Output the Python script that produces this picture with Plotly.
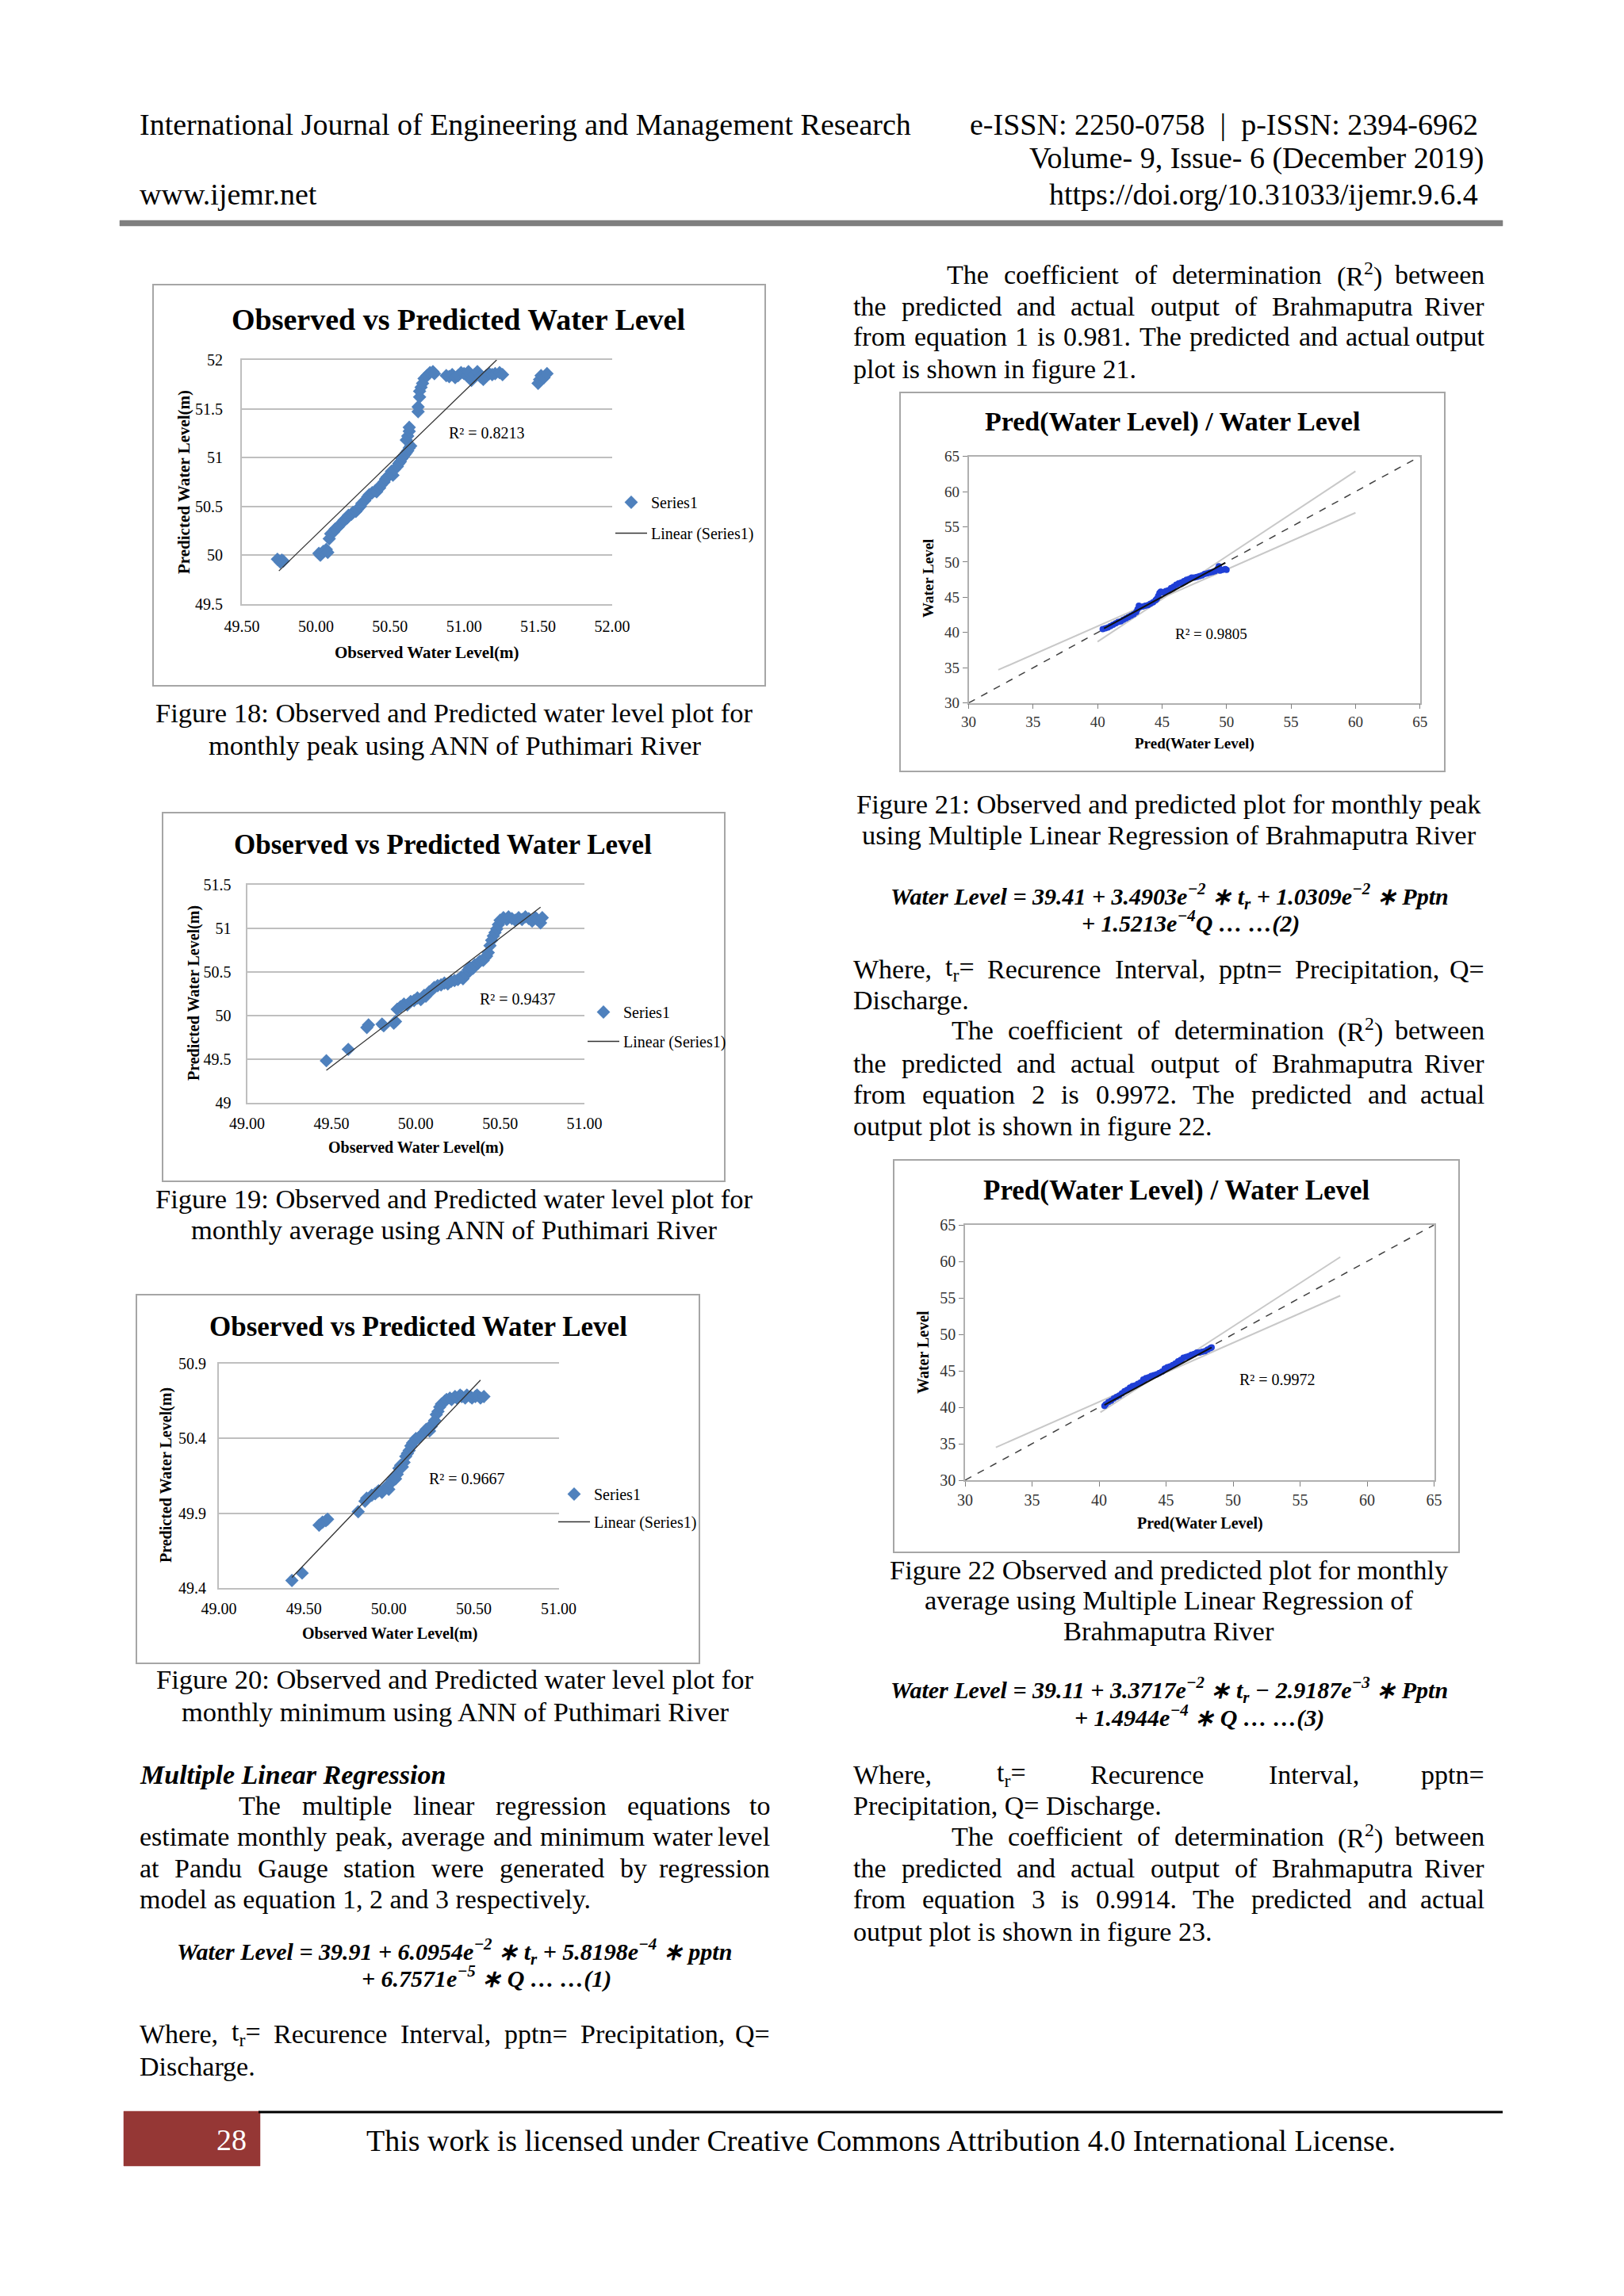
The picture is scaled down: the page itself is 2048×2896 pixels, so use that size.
import re
import plotly.graph_objects as go

W, H = 2048, 2896
def px(x): return x / W
def py(y): return 1 - y / H

SERIF = "Liberation Serif, Times New Roman, serif"
BLUE = "#4F81BD"
DOTBLUE = "#1f3fd6"
GRID = "#bfbfbf"

# ---------------- DATA ----------------
# Figure 18: monthly peak (ANN, Puthimari)
obs18 = [49.74, 49.76, 49.77, 49.78,
         50.02, 50.03, 50.05, 50.07, 50.08,
         50.09, 50.10, 50.12, 50.13, 50.15, 50.16, 50.18, 50.19, 50.21, 50.22,
         50.24, 50.25, 50.27, 50.28, 50.30, 50.31, 50.33, 50.35, 50.36, 50.38,
         50.40, 50.41, 50.43, 50.44, 50.46, 50.47, 50.48, 50.50, 50.51, 50.52,
         50.53, 50.55, 50.56, 50.57, 50.58, 50.59, 50.60, 50.61, 50.62, 50.63, 50.64,
         50.61, 50.62, 50.63, 50.63, 50.69, 50.69, 50.70, 50.70, 50.71, 50.72, 50.73, 50.75, 50.77, 50.79, 50.80,
         50.88, 50.90, 50.92, 50.94, 50.96, 50.98, 51.00, 51.02, 51.03, 51.05,
         51.07, 51.09, 51.11, 51.13, 51.15, 51.17, 51.19, 51.21, 51.24, 51.26,
         51.50, 51.51, 51.52, 51.54, 51.56]
pred18 = [49.96, 49.93, 49.95, 49.94,
          50.02, 50.00, 50.04, 50.06, 50.03,
          50.17, 50.22, 50.24, 50.27, 50.29, 50.31, 50.34, 50.36, 50.38, 50.41,
          50.42, 50.44, 50.45, 50.47, 50.50, 50.53, 50.56, 50.60, 50.62, 50.64,
          50.66, 50.65, 50.69, 50.72, 50.75, 50.78, 50.80, 50.83, 50.86, 50.82,
          50.88, 50.91, 50.94, 50.96, 50.99, 51.01, 51.03, 51.05, 51.07, 51.10, 51.12,
          51.18, 51.22, 51.27, 51.31, 51.47, 51.52, 51.62, 51.68, 51.72, 51.76, 51.81, 51.84, 51.87, 51.88, 51.86,
          51.84, 51.83, 51.85, 51.82, 51.84, 51.87, 51.86, 51.84, 51.88, 51.79,
          51.85, 51.88, 51.83, 51.80, 51.84, 51.86, 51.85, 51.86, 51.87, 51.85,
          51.76, 51.80, 51.84, 51.82, 51.86]
trend18_x = [49.75, 51.22]
trend18_y = [49.84, 52.00]

# Figure 19: monthly average
obs19 = [49.47, 49.60, 49.71, 49.72, 49.80, 49.81, 49.87, 49.88, 49.89, 49.91,
         49.93, 49.95, 49.97, 49.99, 50.01, 50.03, 50.05, 50.06, 50.08, 50.10,
         50.11, 50.13, 50.15, 50.17, 50.19, 50.21, 50.23, 50.25, 50.27, 50.28,
         50.30, 50.31, 50.32, 50.34, 50.35, 50.37, 50.38, 50.40, 50.41, 50.42,
         50.43, 50.44, 50.45, 50.46, 50.47, 50.48, 50.49,
         50.50, 50.52, 50.54, 50.55, 50.57, 50.59, 50.61, 50.63, 50.65, 50.67,
         50.69, 50.71, 50.72, 50.74, 50.75]
pred19 = [49.48, 49.61, 49.86, 49.89, 49.90, 49.88, 49.91, 49.93, 50.07, 50.10,
          50.13, 50.12, 50.16, 50.17, 50.20, 50.18, 50.23, 50.22, 50.27, 50.30,
          50.32, 50.34, 50.35, 50.37, 50.36, 50.39, 50.40, 50.41, 50.44, 50.42,
          50.47, 50.52, 50.55, 50.54, 50.58, 50.60, 50.62, 50.63, 50.66, 50.68,
          50.72, 50.80, 50.86, 50.91, 50.95, 50.99, 51.04,
          51.09, 51.12, 51.10, 51.13, 51.11, 51.09, 51.12, 51.10, 51.13, 51.11,
          51.08, 51.12, 51.10, 51.06, 51.12]
trend19_x = [49.47, 50.74]
trend19_y = [49.37, 51.24]

# Figure 20: monthly minimum
obs20 = [49.43, 49.49, 49.59, 49.61, 49.63, 49.64, 49.82, 49.86, 49.87, 49.90,
         49.92, 49.94, 49.96, 49.98, 49.99, 50.00, 50.01, 50.02, 50.03, 50.04,
         50.05, 50.06, 50.07, 50.08, 50.09, 50.10, 50.11, 50.12, 50.13, 50.14,
         50.15, 50.16, 50.18, 50.19, 50.21, 50.22, 50.24, 50.25, 50.26, 50.27,
         50.28, 50.29, 50.30, 50.31, 50.33, 50.34, 50.36, 50.37, 50.39, 50.40,
         50.42, 50.43, 50.45, 50.46, 50.48, 50.49, 50.51, 50.52, 50.54, 50.56]
pred20 = [49.45, 49.50, 49.82, 49.84, 49.85, 49.86, 49.91, 49.98, 50.00, 50.02,
          50.03, 50.05, 50.04, 50.07, 50.08, 50.06, 50.10, 50.12, 50.14, 50.13,
          50.16, 50.20, 50.22, 50.21, 50.24, 50.28, 50.30, 50.32, 50.35, 50.37,
          50.38, 50.40, 50.41, 50.42, 50.44, 50.46, 50.45, 50.48, 50.50, 50.52,
          50.56, 50.58, 50.61, 50.63, 50.65, 50.66, 50.67, 50.66, 50.68, 50.67,
          50.69, 50.68, 50.67, 50.69, 50.68, 50.67, 50.68, 50.69, 50.67, 50.68]
trend20_x = [49.43, 50.54]
trend20_y = [49.47, 50.79]

# Figure 21: MLR monthly peak (Brahmaputra)
predwl21 = [40.4, 40.6, 40.8, 41.0, 41.2, 41.4, 41.6, 41.8, 42.0, 42.2,
            42.4, 42.6, 42.8, 43.0, 43.1, 43.2, 43.3, 43.5, 43.7, 43.9,
            44.1, 44.3, 44.5, 44.6, 44.7, 44.8, 44.9, 45.1, 45.3, 45.5,
            45.7, 45.9, 46.1, 46.3, 46.5, 46.7, 46.9, 47.1, 47.3, 47.5,
            47.7, 47.9, 48.1, 48.3, 48.5, 48.7, 48.9, 49.1, 49.3, 49.4,
            49.5, 49.7, 49.9, 50.0]
wl21 = [40.5, 40.6, 40.7, 40.9, 41.1, 41.3, 41.5, 41.6, 41.8, 42.0,
        42.2, 42.4, 42.6, 42.9, 43.3, 43.8, 43.6, 43.7, 43.8, 43.9,
        44.1, 44.3, 44.6, 44.8, 45.2, 45.6, 45.8, 45.7, 45.9, 46.0,
        46.3, 46.5, 46.8, 47.0, 47.1, 47.3, 47.5, 47.6, 47.8, 47.8,
        47.9, 48.0, 48.1, 48.3, 48.4, 48.5, 48.6, 48.7, 49.0, 49.4,
        48.8, 48.9, 49.0, 48.9]
diag_x = [30, 65]
diag_y = [30, 65]
fit21_x = [40.5, 49.9]
fit21_y = [40.6, 49.9]
band21a_x = [32.3, 60.0]
band21a_y = [34.7, 57.0]
band21b_x = [40.0, 60.0]
band21b_y = [38.7, 62.9]

# Figure 22: MLR monthly average (Brahmaputra)
predwl22 = [40.4, 40.5, 40.7, 40.9, 41.1, 41.3, 41.5, 41.7, 41.9, 42.1,
            42.3, 42.5, 42.7, 42.9, 43.1, 43.3, 43.5, 43.7, 43.9, 44.1,
            44.3, 44.5, 44.7, 44.9, 45.1, 45.3, 45.5, 45.7, 45.9, 46.1,
            46.3, 46.5, 46.7, 46.9, 47.1, 47.3, 47.5, 47.7, 47.9, 48.1,
            48.3, 48.4]
wl22 = [40.2, 40.4, 40.7, 40.9, 41.2, 41.4, 41.6, 41.9, 42.2, 42.4,
        42.7, 42.9, 43.0, 43.2, 43.4, 43.8, 44.0, 44.1, 44.3, 44.4,
        44.5, 44.7, 44.9, 45.3, 45.5, 45.6, 45.8, 46.0, 46.3, 46.5,
        46.8, 46.9, 47.0, 47.2, 47.3, 47.5, 47.5, 47.6, 47.7, 47.9,
        48.1, 48.2]
fit22_x = [40.4, 48.4]
fit22_y = [40.3, 48.2]
band22a_x = [32.3, 58.0]
band22a_y = [34.5, 55.3]
band22b_x = [40.1, 58.0]
band22b_y = [39.3, 60.6]

r2_labels = ["R² = 0.8213", "R² = 0.9437", "R² = 0.9667", "R² = 0.9805", "R² = 0.9972"]

# ---------------- FIGURE ----------------
fig = go.Figure()

def excel_scatter(n, xs, ys, tx, ty, leg):
    xa, ya = ("x", "y") if n == 1 else ("x%d" % n, "y%d" % n)
    fig.add_trace(go.Scatter(x=xs, y=ys, mode="markers", name="Series1",
                             marker=dict(symbol="diamond", size=13, color=BLUE),
                             xaxis=xa, yaxis=ya, legend=leg, legendgroup="s%d" % n))
    fig.add_trace(go.Scatter(x=tx, y=ty, mode="lines", name="Linear (Series1)",
                             line=dict(color="#333333", width=1.3),
                             xaxis=xa, yaxis=ya, legend=leg, legendgroup="t%d" % n))

excel_scatter(1, obs18, pred18, trend18_x, trend18_y, "legend")
excel_scatter(2, obs19, pred19, trend19_x, trend19_y, "legend2")
excel_scatter(3, obs20, pred20, trend20_x, trend20_y, "legend3")

def mlr_scatter(n, xs, ys, fx, fy, ax, ay, bx, by):
    xa, ya = "x%d" % n, "y%d" % n
    for lx, ly in ((ax, ay), (bx, by)):
        fig.add_trace(go.Scatter(x=lx, y=ly, mode="lines", line=dict(color="#c8c8c8", width=2),
                                 xaxis=xa, yaxis=ya, showlegend=False))
    fig.add_trace(go.Scatter(x=diag_x, y=diag_y, mode="lines",
                             line=dict(color="#404040", width=1.5, dash="dash"),
                             xaxis=xa, yaxis=ya, showlegend=False))
    fig.add_trace(go.Scatter(x=xs, y=ys, mode="markers", marker=dict(size=8, color=DOTBLUE),
                             xaxis=xa, yaxis=ya, showlegend=False))
    fig.add_trace(go.Scatter(x=fx, y=fy, mode="lines", line=dict(color="#101010", width=2),
                             xaxis=xa, yaxis=ya, showlegend=False))

mlr_scatter(4, predwl21, wl21, fit21_x, fit21_y, band21a_x, band21a_y, band21b_x, band21b_y)
mlr_scatter(5, predwl22, wl22, fit22_x, fit22_y, band22a_x, band22a_y, band22b_x, band22b_y)

def tf(size, color="#000000"):
    return dict(family=SERIF, size=size, color=color)

def excel_axes(n, x0, x1, y0, y1, xr, yr, ytick0, xlab_off, ylab_off):
    kx = "xaxis" if n == 1 else "xaxis%d" % n
    ky = "yaxis" if n == 1 else "yaxis%d" % n
    ax_id = "x" if n == 1 else "x%d" % n
    ay_id = "y" if n == 1 else "y%d" % n
    fig.layout[kx] = dict(domain=[px(x0), px(x1)], range=xr, anchor=ay_id, tick0=xr[0], dtick=0.5,
                          tickformat=".2f", showgrid=False, zeroline=False, showline=True, mirror=True,
                          linecolor=GRID, linewidth=2, ticks="", tickfont=tf(20),
                          ticklabelstandoff=xlab_off, automargin=False, fixedrange=True)
    fig.layout[ky] = dict(domain=[py(y1), py(y0)], range=yr, anchor=ax_id, tick0=ytick0, dtick=0.5,
                          showgrid=True, gridcolor=GRID, gridwidth=2, zeroline=False, showline=True,
                          linecolor=GRID, linewidth=2, ticks="", tickfont=tf(20),
                          ticklabelstandoff=ylab_off, automargin=False, fixedrange=True)

excel_axes(1, 305, 772, 454, 762, [49.5, 52.0], [49.5, 52.0], 49.5, 9, 18)
excel_axes(2, 311.6, 737, 1115.7, 1390.7, [49.0, 51.0], [49.0, 51.5], 49.0, 7, 14)
excel_axes(3, 276, 704.5, 1720, 2003, [49.0, 51.0], [49.4, 50.9], 49.4, 7, 10)

def mlr_axes(n, x0, x1, y0, y1, size):
    fig.layout["xaxis%d" % n] = dict(domain=[px(x0), px(x1)], range=[30, 65], anchor="y%d" % n, dtick=5,
                                      showgrid=False, zeroline=False, showline=True, mirror=True,
                                      linecolor="#b0b0b0", linewidth=1.5, ticks="outside", ticklen=6,
                                      tickcolor="#808080", tickfont=tf(size, "#333333"),
                                      automargin=False, fixedrange=True)
    fig.layout["yaxis%d" % n] = dict(domain=[py(y1), py(y0)], range=[30, 65], anchor="x%d" % n, dtick=5,
                                      showgrid=False, zeroline=False, showline=True, mirror=True,
                                      linecolor="#b0b0b0", linewidth=1.5, ticks="outside", ticklen=6,
                                      tickcolor="#808080", tickfont=tf(size, "#333333"),
                                      automargin=False, fixedrange=True)

mlr_axes(4, 1221.5, 1790.7, 575.7, 886.7, 19)
mlr_axes(5, 1217, 1808.5, 1545, 1867, 20)

def legend_at(x, y, gap):
    return dict(x=px(x), y=py(y), xanchor="left", yanchor="top", bgcolor="rgba(0,0,0,0)",
                borderwidth=0, font=tf(20), itemwidth=40, tracegroupgap=gap, traceorder="grouped")

fig.update_layout(legend=legend_at(771, 614, 10), legend2=legend_at(736, 1257, 8),
                  legend3=legend_at(699, 1865, 6))

# ---------------- TEXT ----------------
# Times/Liberation Serif advance widths (per 1000 em) used to justify body lines
TW = {" ": 250, ",": 250, ".": 250, "-": 333, "(": 333, ")": 333, "=": 564, ":": 278,
      "A": 722, "B": 667, "C": 667, "D": 722, "E": 611, "F": 556, "G": 722, "I": 333, "L": 611,
      "M": 889, "P": 556, "Q": 722, "R": 667, "T": 611, "W": 944,
      "a": 444, "b": 500, "c": 444, "d": 500, "e": 444, "f": 333, "g": 500, "h": 500, "i": 278,
      "j": 278, "k": 500, "l": 278, "m": 778, "n": 500, "o": 500, "p": 500, "q": 500, "r": 333,
      "s": 389, "t": 278, "u": 500, "v": 500, "w": 722, "x": 500, "y": 500, "z": 444}

def text_width(s, size):
    total = 0.0
    for part in re.split(r"(<su[pb]>.*?</su[pb]>)", s):
        plain = re.sub(r"<.*?>", "", part)
        w = sum(TW.get(c, 500) for c in plain)
        total += w * (0.7 if part.startswith("<su") else 1.0)
    return total * size / 1000.0

ann = []
def T(text, x, y, size=34, xanchor="left", color="#000000", angle=0):
    ann.append(dict(text=text, x=px(x), y=py(y), xref="paper", yref="paper", xanchor=xanchor,
                    yanchor="middle", showarrow=False, textangle=angle, font=tf(size, color)))

def J(text, left, right, y, size=34):
    words = text.split(" ")
    widths = [text_width(w, size) for w in words]
    gap = (right - left - sum(widths)) / (len(words) - 1)
    x = left
    for i, (w, wd) in enumerate(zip(words, widths)):
        if i == len(words) - 1:
            T(w, right, y, size, "right")
        else:
            T(w, x, y, size)
        x += wd + gap

LR = 973     # left column right edge
RL, RR = 1074, 1874   # right column edges

# header
T("International Journal of Engineering and Management Research", 174, 157, 38)
T("e-ISSN: 2250-0758  |  p-ISSN: 2394-6962", 1866, 157, 38, "right")
T("Volume- 9, Issue- 6 (December 2019)", 1873, 200, 38, "right")
T("www.ijemr.net", 174, 245, 38)
T("https://doi.org/10.31033/ijemr.9.6.4", 1866, 245, 38, "right")

# chart titles / axis titles / R2
T("<b>Observed vs Predicted Water Level</b>", 578, 403, 38, "center")
T("<b>Observed Water Level(m)</b>", 538, 823, 21, "center")
T("<b>Predicted Water Level(m)</b>", 232, 608, 21, "center", angle=-90)
T(r2_labels[0], 564, 546, 20)

T("<b>Observed vs Predicted Water Level</b>", 558, 1065, 35, "center")
T("<b>Observed Water Level(m)</b>", 524, 1447, 20, "center")
T("<b>Predicted Water Level(m)</b>", 244, 1253, 20, "center", angle=-90)
T(r2_labels[1], 603, 1260, 20)

T("<b>Observed vs Predicted Water Level</b>", 527, 1673, 35, "center")
T("<b>Observed Water Level(m)</b>", 491, 2060, 20, "center")
T("<b>Predicted Water Level(m)</b>", 209, 1861, 20, "center", angle=-90)
T(r2_labels[2], 539, 1865, 20)

T("<b>Pred(Water Level) / Water Level</b>", 1478, 532, 34, "center")
T("<b>Pred(Water Level)</b>", 1506, 938, 19, "center")
T("<b>Water Level</b>", 1170, 730, 19, "center", angle=-90)
T(r2_labels[3], 1480, 800, 19)

T("<b>Pred(Water Level) / Water Level</b>", 1484, 1501, 35, "center")
T("<b>Pred(Water Level)</b>", 1513, 1921, 20, "center")
T("<b>Water Level</b>", 1164, 1706, 20, "center", angle=-90)
T(r2_labels[4], 1561, 1740, 20)

# left column
T("Figure 18: Observed and Predicted water level plot for", 573, 899, 34.5, "center")
T("monthly peak using ANN of Puthimari River", 573, 940, 34.5, "center")
T("Figure 19: Observed and Predicted water level plot for", 573, 1512, 34.5, "center")
T("monthly average using ANN of Puthimari River", 573, 1551, 34.5, "center")
T("Figure 20: Observed and Predicted water level plot for", 574, 2118, 34.5, "center")
T("monthly minimum using ANN of Puthimari River", 574, 2159, 34.5, "center")
T("<b><i>Multiple Linear Regression</i></b>", 174, 2238, 34)
J("The multiple linear regression equations to", 299, LR, 2277)
J("estimate monthly peak, average and minimum water level", 174, LR, 2316)
J("at Pandu Gauge station were generated by regression", 174, LR, 2356)
T("model as equation 1, 2 and 3 respectively.", 174, 2395, 34)
T("<b><i>Water Level = 39.91 + 6.0954e<sup>−2</sup> ∗ t<sub>r</sub> + 5.8198e<sup>−4</sup> ∗ pptn</i></b>",
  573, 2461, 30, "center")
T("<b><i>+ 6.7571e<sup>−5</sup> ∗ Q … …(1)</i></b>", 613, 2493, 30, "center")
J("Where, t<sub>r</sub>= Recurence Interval, pptn= Precipitation, Q=", 174, LR, 2565)
T("Discharge.", 174, 2606, 34)

# right column
J("The coefficient of determination (R<sup>2</sup>) between", 1192, RR, 347)
J("the predicted and actual output of Brahmaputra River", RL, RR, 386)
J("from equation 1 is 0.981. The predicted and actual output", RL, RR, 425)
T("plot is shown in figure 21.", RL, 465, 34)
T("Figure 21: Observed and predicted plot for monthly peak", 1474, 1014, 34.5, "center")
T("using Multiple Linear Regression of Brahmaputra River", 1474, 1053, 34.5, "center")
T("<b><i>Water Level = 39.41 + 3.4903e<sup>−2</sup> ∗ t<sub>r</sub> + 1.0309e<sup>−2</sup> ∗ Pptn</i></b>",
  1475, 1131, 30, "center")
T("<b><i>+ 1.5213e<sup>−4</sup>Q … …(2)</i></b>", 1501, 1162, 30, "center")
J("Where, t<sub>r</sub>= Recurence Interval, pptn= Precipitation, Q=", RL, RR, 1222)
T("Discharge.", RL, 1261, 34)
J("The coefficient of determination (R<sup>2</sup>) between", 1198, RR, 1300)
J("the predicted and actual output of Brahmaputra River", RL, RR, 1341)
J("from equation 2 is 0.9972. The predicted and actual", RL, RR, 1380)
T("output plot is shown in figure 22.", RL, 1420, 34)
T("Figure 22 Observed and predicted plot for monthly", 1474, 1980, 34.5, "center")
T("average using Multiple Linear Regression of", 1474, 2018, 34.5, "center")
T("Brahmaputra River", 1474, 2057, 34.5, "center")
T("<b><i>Water Level = 39.11 + 3.3717e<sup>−2</sup> ∗ t<sub>r</sub> − 2.9187e<sup>−3</sup> ∗ Pptn</i></b>",
  1474, 2131, 30, "center")
T("<b><i>+ 1.4944e<sup>−4</sup> ∗ Q … …(3)</i></b>", 1512, 2164, 30, "center")
J("Where, t<sub>r</sub>= Recurence Interval, pptn=", RL, RR, 2238)
T("Precipitation, Q= Discharge.", RL, 2277, 34)
J("The coefficient of determination (R<sup>2</sup>) between", 1198, RR, 2316)
J("the predicted and actual output of Brahmaputra River", RL, RR, 2356)
J("from equation 3 is 0.9914. The predicted and actual", RL, RR, 2395)
T("output plot is shown in figure 23.", RL, 2436, 34)

# footer
T("28", 292, 2699, 38, "center", color="#ffffff")
T("This work is licensed under Creative Commons Attribution 4.0 International License.", 1111, 2700, 38, "center")

# ---------------- SHAPES ----------------
shapes = []
def rect(x0, y0, x1, y1, line="#a6a6a6", fill=None, lw=2):
    shapes.append(dict(type="rect", xref="paper", yref="paper", x0=px(x0), x1=px(x1), y0=py(y1), y1=py(y0),
                       line=dict(color=line, width=lw), fillcolor=fill, layer="below"))

rect(193, 359, 965, 865)
rect(205, 1025, 914, 1490)
rect(172, 1633, 882, 2098)
rect(1135, 495, 1822, 973)
rect(1127, 1463, 1840, 1958)
rect(151, 278, 1895, 285, line="#7f7f7f", fill="#7f7f7f", lw=0.5)
rect(156, 2663, 328, 2732, line="#953735", fill="#953735", lw=0.5)
shapes.append(dict(type="line", xref="paper", yref="paper", x0=px(326), x1=px(1895), y0=py(2664), y1=py(2664),
                   line=dict(color="#000000", width=3)))

fig.update_layout(width=W, height=H, margin=dict(l=0, r=0, t=0, b=0), paper_bgcolor="white",
                  plot_bgcolor="white", annotations=ann, shapes=shapes, showlegend=True)

fig.write_html("out.html", config={"displayModeBar": False},
               post_script="document.body.style.margin='0';")
